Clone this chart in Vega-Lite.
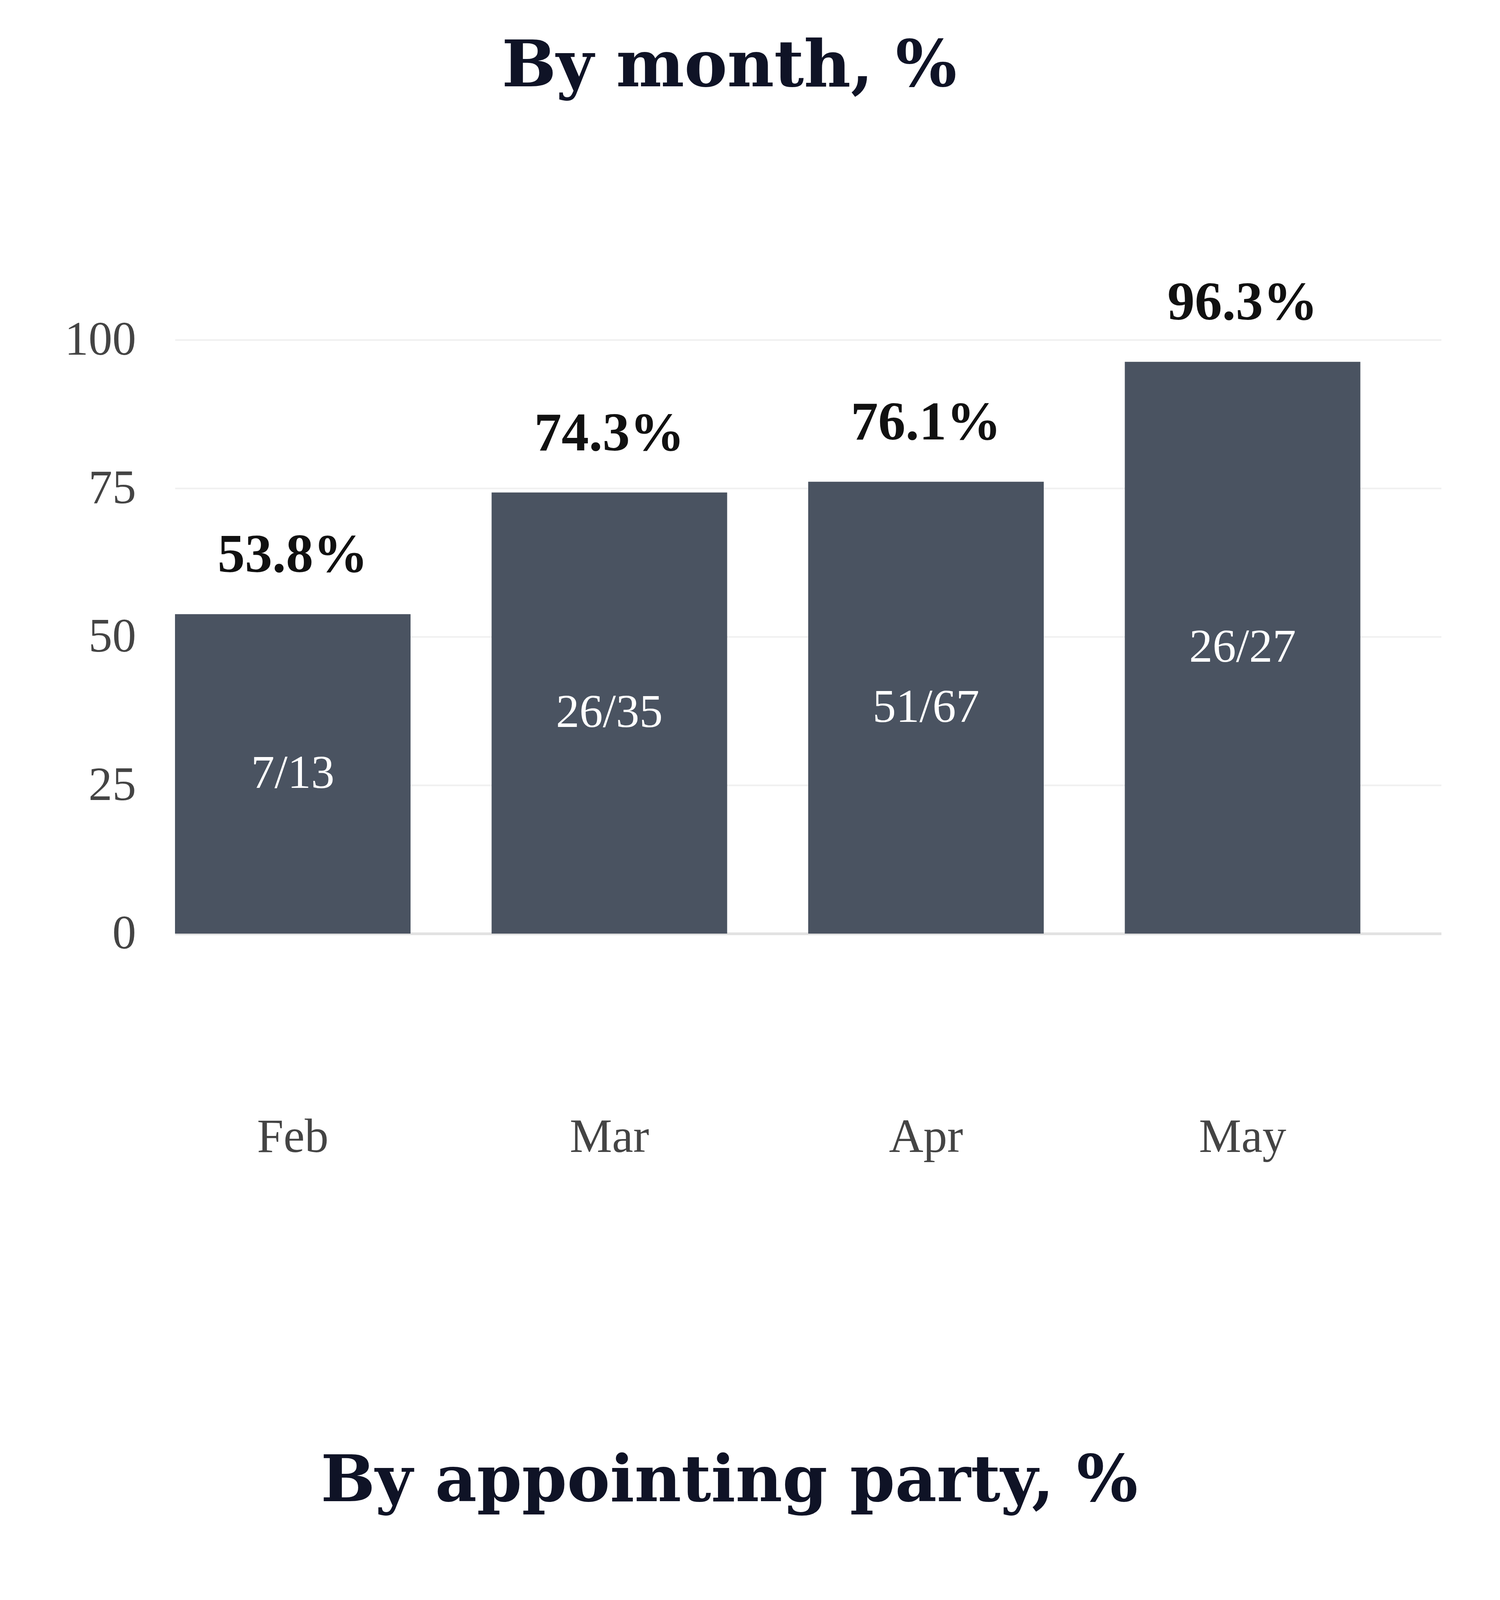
{
  "$schema": "https://vega.github.io/schema/vega-lite/v6.json",
  "background": "white",
  "padding": {"left": 165, "top": 89, "right": 0, "bottom": 0},
  "datasets": {
    "month": [
      {"month": "Feb", "pct": 53.8, "frac": "7/13", "label": "53.8%"},
      {"month": "Mar", "pct": 74.3, "frac": "26/35", "label": "74.3%"},
      {"month": "Apr", "pct": 76.1, "frac": "51/67", "label": "76.1%"},
      {"month": "May", "pct": 96.3, "frac": "26/27", "label": "96.3%"}
    ],
    "party": [
      {"party": "Republican appointed", "pct": 72.2, "frac": "26/36", "label": "72.2%"},
      {"party": "Democratic appointed", "pct": 80.4, "frac": "74/92", "label": "80.4%"}
    ]
  },
  "spacing": 739,
  "vconcat": [
    {
      "width": 3242,
      "height": 1520,
      "title": {"text": "By month, %", "dx": -202, "offset": 450},
      "data": {"name": "month"},
      "encoding": {
        "x": {
          "field": "month", "type": "nominal", "sort": null,
          "scale": {"paddingInner": 0.256, "paddingOuter": 0.128, "align": 0},
          "axis": {"title": null, "labelAngle": 0, "labelLimit": 3000, "ticks": false, "domain": true, "domainColor": "#e2e2e2", "domainWidth": 7, "labelPadding": 462, "labelFont": "Liberation Serif", "labelFontSize": 122, "labelColor": "#444444", "labelBaseline": "top"}
        }
      },
      "layer": [
        {
          "mark": {"type": "bar", "color": "#4a5361"},
          "encoding": {
            "y": {"field": "pct", "type": "quantitative", "scale": {"domain": [0, 100], "nice": false},
              "axis": {"title": null, "values": [0, 25, 50, 75, 100], "labelLimit": 3000, "domain": false, "ticks": false, "grid": true, "gridColor": "#f0f0f0", "gridWidth": 4, "labelPadding": 100, "labelFont": "Liberation Serif", "labelFontSize": 122, "labelColor": "#444444"}}
          }
        },
        {
          "mark": {"type": "text", "font": "Liberation Serif", "fontWeight": "bold", "fontSize": 140, "color": "#111111", "baseline": "middle", "dy": -150},
          "encoding": {
            "y": {"field": "pct", "type": "quantitative", "scale": {"domain": [0, 100], "nice": false}, "axis": null},
            "text": {"field": "label"}
          }
        },
        {
          "mark": {"type": "text", "font": "Liberation Serif", "fontSize": 120, "color": "#ffffff", "baseline": "middle"},
          "encoding": {
            "y": {"field": "pct", "type": "quantitative", "scale": {"domain": [0, 200], "nice": false}, "axis": null},
            "text": {"field": "frac"}
          }
        }
      ],
      "resolve": {"scale": {"y": "independent"}}
    },
    {
      "width": 3242,
      "height": 1520,
      "title": {"text": "By appointing party, %", "dx": -202, "offset": 559},
      "data": {"name": "party"},
      "encoding": {
        "x": {
          "field": "party", "type": "nominal", "sort": null,
          "scale": {"paddingInner": 0.3325, "paddingOuter": 0.5},
          "axis": {"title": null, "labelAngle": 0, "labelLimit": 3000, "ticks": false, "domain": true, "domainColor": "#e2e2e2", "domainWidth": 7, "labelPadding": 417, "labelFont": "Liberation Serif", "labelFontSize": 122, "labelColor": "#444444", "labelBaseline": "top", "labelLineHeight": 152, "labelExpr": "split(datum.label, ' ')"}
        }
      },
      "layer": [
        {
          "mark": {"type": "bar"},
          "encoding": {
            "y": {"field": "pct", "type": "quantitative", "scale": {"domain": [0, 100], "nice": false},
              "axis": {"title": null, "values": [0, 25, 50, 75, 100], "labelLimit": 3000, "domain": false, "ticks": false, "grid": true, "gridColor": "#f0f0f0", "gridWidth": 4, "labelPadding": 100, "labelFont": "Liberation Serif", "labelFontSize": 122, "labelColor": "#444444"}},
            "color": {"field": "party", "type": "nominal", "scale": {"domain": ["Republican appointed", "Democratic appointed"], "range": ["#e35f5b", "#5582e6"]}, "legend": null}
          }
        },
        {
          "mark": {"type": "text", "font": "Liberation Serif", "fontWeight": "bold", "fontSize": 140, "color": "#111111", "baseline": "middle", "dy": -150},
          "encoding": {
            "y": {"field": "pct", "type": "quantitative", "scale": {"domain": [0, 100], "nice": false}, "axis": null},
            "text": {"field": "label"}
          }
        },
        {
          "mark": {"type": "text", "font": "Liberation Serif", "fontSize": 120, "color": "#ffffff", "baseline": "middle"},
          "encoding": {
            "y": {"field": "pct", "type": "quantitative", "scale": {"domain": [0, 200], "nice": false}, "axis": null},
            "text": {"field": "frac"}
          }
        }
      ],
      "resolve": {"scale": {"y": "independent"}}
    }
  ],
  "config": {
    "view": {"stroke": null},
    "title": {"font": "DejaVu Serif", "fontSize": 165, "fontWeight": "bold", "color": "#0f1326", "anchor": "middle"}
  }
}
